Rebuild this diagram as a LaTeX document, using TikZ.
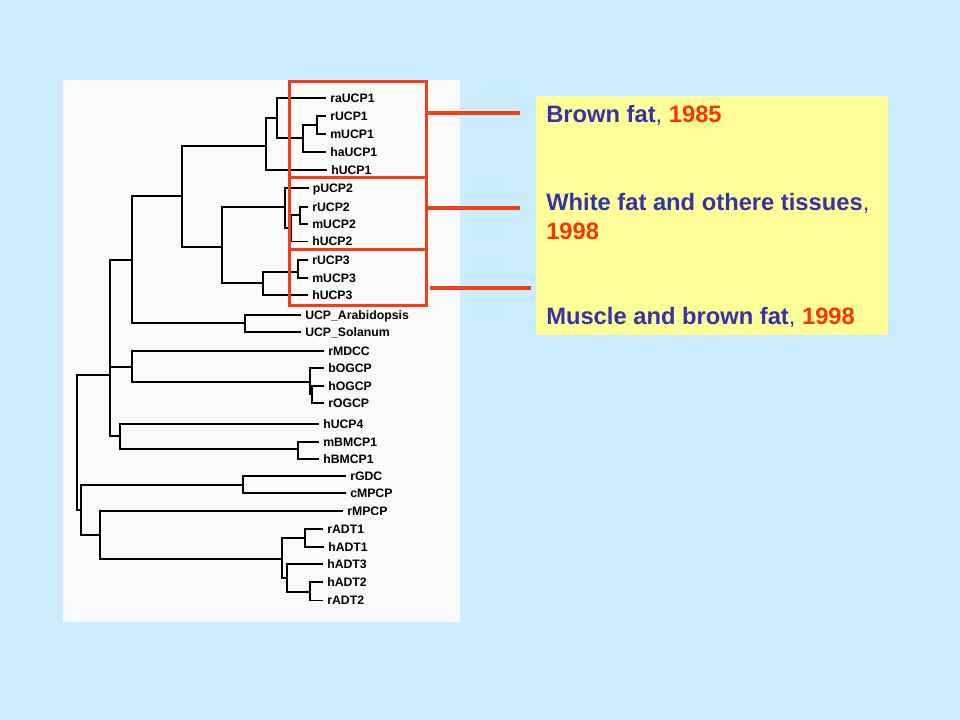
\documentclass[tikz,border=0pt]{standalone}
\usepackage{fontspec}
\setmainfont{Liberation Sans}
\definecolor{skybg}{RGB}{204,236,255}
\definecolor{notepad}{RGB}{255,255,153}
\definecolor{txtblue}{RGB}{51,51,170}
\definecolor{txtred}{RGB}{255,51,0}
\definecolor{boxred}{RGB}{240,64,24}
\begin{document}
\begin{tikzpicture}[x=0.75pt, y=-0.75pt,
  branch/.style={line width=1.3pt, black},
  leaf/.style={anchor=west, inner xsep=3pt, inner ysep=0pt, text height=6.6pt, text depth=0pt, font=\fontsize{9.2}{11}\selectfont\bfseries},
  grpbox/.style={draw=boxred, line width=2.2pt, anchor=north west, minimum width=102.75pt, inner sep=0pt},
  pointer/.style={draw=boxred, line width=2.4pt},
  note/.style={anchor=base west, inner sep=0pt, text=txtblue, font=\fontsize{17.8}{21}\selectfont\bfseries}]
\fill[skybg] (0,0) rectangle (960,720);
\useasboundingbox (0,0) rectangle (960,720);
\fill[white!98!black] (63,80) rectangle (460,622);

% leaves of the tree
\node[leaf] (raUCP1) at (326,98.3) {raUCP1};
\node[leaf] (rUCP1) at (326,116) {rUCP1};
\node[leaf] (mUCP1) at (326,134) {mUCP1};
\node[leaf] (haUCP1) at (326,151.7) {haUCP1};
\node[leaf] (hUCP1) at (327,170) {hUCP1};
\node[leaf] (pUCP2) at (308.5,188.3) {pUCP2};
\node[leaf] (rUCP2) at (308,206.7) {rUCP2};
\node[leaf] (mUCP2) at (308,224) {mUCP2};
\node[leaf] (hUCP2) at (308,241.5) {hUCP2};
\node[leaf] (rUCP3) at (308,260) {rUCP3};
\node[leaf] (mUCP3) at (308,277.7) {mUCP3};
\node[leaf] (hUCP3) at (308,295) {hUCP3};
\node[leaf] (UCPar) at (301,315) {UCP\_Arabidopsis};
\node[leaf] (UCPso) at (301,332.3) {UCP\_Solanum};
\node[leaf] (rMDCC) at (324,350.7) {rMDCC};
\node[leaf] (bOGCP) at (324,367.7) {bOGCP};
\node[leaf] (hOGCP) at (324,385.7) {hOGCP};
\node[leaf] (rOGCP) at (324,403.3) {rOGCP};
\node[leaf] (hUCP4) at (319,424) {hUCP4};
\node[leaf] (mBMCP1) at (319,441.7) {mBMCP1};
\node[leaf] (hBMCP1) at (319,459.3) {hBMCP1};
\node[leaf] (rGDC) at (346,475.7) {rGDC};
\node[leaf] (cMPCP) at (346,492.7) {cMPCP};
\node[leaf] (rMPCP) at (343,511) {rMPCP};
\node[leaf] (rADT1) at (323,529.3) {rADT1};
\node[leaf] (hADT1) at (324,546.7) {hADT1};
\node[leaf] (hADT3) at (323,564) {hADT3};
\node[leaf] (hADT2) at (323,582) {hADT2};
\node[leaf] (rADT2) at (323,600.5) {rADT2};

% inner nodes
\coordinate (root) at (77,442);
\coordinate (big) at (109.7,375);
\coordinate (ucpP) at (132.3,260);
\coordinate (ucp) at (182,196);
\coordinate (u1) at (266,146);
\coordinate (u1a) at (276.7,118);
\coordinate (u1b) at (303.3,138.3);
\coordinate (u1c) at (316.7,125);
\coordinate (u23) at (221.7,246.7);
\coordinate (u2) at (285,206.7);
\coordinate (u2a) at (291,228.3);
\coordinate (u2b) at (300,215);
\coordinate (u3) at (263.3,283.3);
\coordinate (u3a) at (298.3,271.7);
\coordinate (plant) at (245,323.3);
\coordinate (mdcc) at (132,366.7);
\coordinate (og) at (310,381.7);
\coordinate (og2) at (312.3,394);
\coordinate (u4) at (120.3,435.7);
\coordinate (bm) at (298.3,449);
\coordinate (low) at (80.7,510);
\coordinate (gdc) at (243.3,485);
\coordinate (mp) at (100.3,535);
\coordinate (adt) at (281.7,559);
\coordinate (adt1) at (305,537.7);
\coordinate (adt23) at (286.7,578.3);
\coordinate (adt2) at (310,591.7);

\foreach \p/\c in {root/big, root/low, big/ucpP, big/mdcc, big/u4,
  ucpP/ucp, ucpP/plant, ucp/u1, ucp/u23, u1/u1a, u1/hUCP1,
  u1a/raUCP1, u1a/u1b, u1b/u1c, u1b/haUCP1, u1c/rUCP1, u1c/mUCP1,
  u23/u2, u23/u3, u2/pUCP2, u2/u2a, u2a/u2b, u2a/hUCP2,
  u2b/rUCP2, u2b/mUCP2, u3/u3a, u3/hUCP3, u3a/rUCP3, u3a/mUCP3,
  plant/UCPar, plant/UCPso, mdcc/rMDCC, mdcc/og, og/bOGCP, og/og2,
  og2/hOGCP, og2/rOGCP, u4/hUCP4, u4/bm, bm/mBMCP1, bm/hBMCP1,
  low/gdc, low/mp, gdc/rGDC, gdc/cMPCP, mp/rMPCP, mp/adt,
  adt/adt1, adt/adt23, adt1/rADT1, adt1/hADT1,
  adt23/hADT3, adt23/adt2, adt2/hADT2, adt2/rADT2}
  \draw[branch] (\p) |- (\c);

% red group boxes
\node[grpbox, minimum height=72pt] (box1) at (288,80) {};
\node[grpbox, minimum height=54pt] (box2) at (288,176) {};
\node[grpbox, minimum height=42pt] (box3) at (288,248) {};

% yellow note
\node[fill=notepad, anchor=north west, inner sep=0pt, minimum width=264pt, minimum height=179.25pt] (info) at (536,96) {};
\node[note] (brown) at (546,123) {Brown fat{\mdseries ,} \textcolor{txtred}{1985}};
\node[note] (white) at (546,210.5) {White fat and othere tissues{\mdseries ,}};
\node[note] (whiteyr) at (546,239.5) {\textcolor{txtred}{1998}};
\node[note] (muscle) at (546,325) {Muscle and brown fat{\mdseries ,} \textcolor{txtred}{1998}};

% pointers
\coordinate (p1) at (520,113);
\coordinate (p2) at (520,208);
\coordinate (q3) at (430,288);
\coordinate (p3) at (531,288);
\draw[pointer] (box1.east |- p1) -- (p1);
\draw[pointer] (box2.east |- p2) -- (p2);
\draw[pointer] (q3) -- (p3);
\end{tikzpicture}
\end{document}
